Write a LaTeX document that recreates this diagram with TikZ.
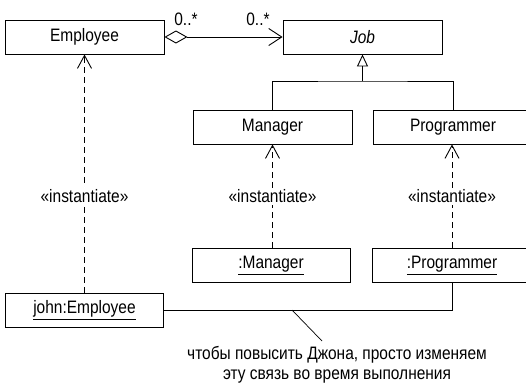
\documentclass[tikz,border=0pt]{standalone}
\usepackage{fontspec}
\setmainfont[FakeStretch=0.86]{Liberation Sans}
\usepackage{tikz}
\usetikzlibrary{positioning,arrows.meta}

\begin{document}
\begin{tikzpicture}[
  x=1pt, y=-1pt, font=\fontsize{18}{21}\selectfont,
  line width=0.9pt,
  cls/.style={draw, minimum width=159pt, minimum height=34pt, inner sep=0pt},
  obj/.style={cls, minimum width=158pt},
  dep/.style={-{Straight Barb[length=13pt,width=14pt]}, dash pattern=on 6pt off 4pt},
  inh/.style={-{Triangle[open,length=12pt,width=11pt]}},
  agg/.style={{Diamond[open,length=23pt,width=13pt]}-{Straight Barb[length=13pt,width=17pt]}},
  lbl/.style={fill=white, inner sep=2pt},
]
\useasboundingbox (0,0) rectangle (526,391);

% classes
\node[cls] (emp)  at (84.5,37)  {Employee};
\node[cls] (job)  at (362.5,37) {\itshape Job};
\node[cls] (mgr)  at (272.5,127) {Manager};
\node[cls, minimum width=160pt] (prog) at (453,127) {Programmer};

% objects
\node[obj] (omgr)  at (271,265.5) {\underline{:Manager}};
\node[obj, minimum width=160pt] (oprog) at (452,265.5) {\underline{:Programmer}};
\node[obj] (john)  at (84.5,310) {\underline{john:Employee}};

% association Employee -> Job
\draw[agg] (emp.east) -- (job.west);
\node[anchor=base] (m1) at (186,25) {0..*};
\node[anchor=base] (m2) at (258,25) {0..*};

% generalization
\coordinate (gen) at (362.5,81);
\draw[inh] (gen) -- (job.south);
\draw (mgr.north) |- (gen) -| (prog.north);

% instantiation
\draw[dep] (john.north) -- node[lbl, pos=0.406] {«instantiate»} (emp.south);
\draw[dep] (omgr.north -| mgr.south) -- node[lbl] {«instantiate»} (mgr.south);
\draw[dep] (oprog.north) -- node[lbl] {«instantiate»} (oprog.north |- prog.south);

% link + note
\draw (john.east) -| (oprog.south);
\coordinate (lnk) at (292,310);
\coordinate (tip) at (322,341);
\draw[line width=0.7pt] (lnk) -- (tip);
\node[align=center, anchor=north, inner sep=0pt, font=\fontsize{18}{20}\selectfont] (note) at (337,346)
  {чтобы повысить Джона, просто изменяем\\эту связь во время выполнения};
\end{tikzpicture}
\end{document}
